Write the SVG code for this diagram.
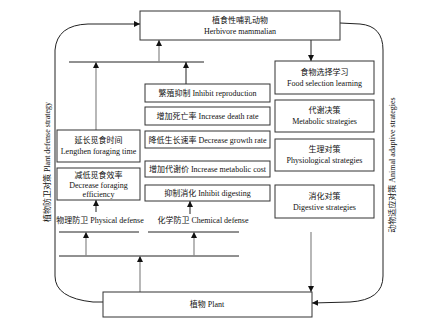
<svg xmlns="http://www.w3.org/2000/svg" width="439" height="329" viewBox="0 0 439 329">
<style>
.box{fill:#fff;stroke:#333;stroke-width:1}
.t{font-family:"Liberation Serif","Noto Sans CJK SC",serif;font-size:8px;fill:#111;text-anchor:middle}
.ln{fill:none;stroke:#222;stroke-width:1}
.ar{fill:none;stroke:#888;stroke-width:1.2}
.cv{fill:none;stroke:#222;stroke-width:1}
</style>
<defs>
<marker id="ah" viewBox="0 0 8 8" refX="8" refY="4" markerWidth="6" markerHeight="6" orient="auto" markerUnits="userSpaceOnUse">
<path d="M0,0 L8,4 L0,8 Z" fill="#111"/>
</marker>
</defs>
<rect width="439" height="329" fill="#fff"/>

<g id="connectors">
<path class="cv" d="M103,302 L93,302 Q55,298 55,276 L55,50 Q57,25 88,24 L140,24" marker-end="url(#ah)"/>
<path class="cv" d="M340,23 L360,24 Q383,26 383,50 L383,276 Q383,300 350,302 L312,303" marker-end="url(#ah)"/>
<line class="ln" x1="69" y1="62" x2="204" y2="62"/>
<line class="ar" x1="159" y1="62" x2="159" y2="40" marker-end="url(#ah)"/>
<line class="ar" x1="96" y1="130" x2="96" y2="62" marker-end="url(#ah)"/>
<line class="ln" x1="186" y1="84" x2="186" y2="62" marker-end="url(#ah)"/>
<line class="ln" x1="311" y1="40" x2="311" y2="61" marker-end="url(#ah)"/>
<line class="ln" x1="96" y1="212" x2="96" y2="200" marker-end="url(#ah)"/>
<line class="ln" x1="190" y1="214" x2="190" y2="201" marker-end="url(#ah)"/>
<line class="ln" x1="59" y1="232" x2="139" y2="232"/>
<line class="ln" x1="148" y1="232" x2="239" y2="232"/>
<line class="ln" x1="59" y1="256" x2="239" y2="256"/>
<line class="ar" x1="86" y1="256" x2="86" y2="232" marker-end="url(#ah)"/>
<line class="ar" x1="194" y1="256" x2="194" y2="232" marker-end="url(#ah)"/>
<line class="ar" x1="140" y1="292" x2="140" y2="256" marker-end="url(#ah)"/>
<line class="ar" x1="311" y1="232" x2="311" y2="292" marker-end="url(#ah)"/>
</g>

<g id="herbivore">
<rect class="box" x="140" y="11" width="200" height="29"/>
<text class="t" x="240" y="23">植食性哺乳动物</text>
<text class="t" x="240" y="34">Herbivore mammalian</text>
</g>
<g id="plant">
<rect class="box" x="103" y="292" width="209" height="25"/>
<text class="t" x="207" y="307">植物 Plant</text>
</g>

<g id="food-selection">
<rect class="box" x="275" y="61" width="99" height="33"/>
<text class="t" x="324.5" y="75">食物选择学习</text>
<text class="t" x="324.5" y="86">Food selection learning</text>
</g>
<g id="metabolic">
<rect class="box" x="275" y="100" width="99" height="32"/>
<text class="t" x="324.5" y="113">代谢决策</text>
<text class="t" x="324.5" y="124">Metabolic strategies</text>
</g>
<g id="physiological">
<rect class="box" x="275" y="139" width="99" height="32"/>
<text class="t" x="324.5" y="152">生理对策</text>
<text class="t" x="324.5" y="163">Physiological strategies</text>
</g>
<g id="digestive">
<rect class="box" x="275" y="185" width="99" height="33"/>
<text class="t" x="324.5" y="199">消化对策</text>
<text class="t" x="324.5" y="210">Digestive strategies</text>
</g>

<g id="inhibit-reproduction">
<rect class="box" x="145" y="84" width="125" height="18"/>
<text class="t" x="207.5" y="96">繁殖抑制 Inhibit reproduction</text>
</g>
<g id="increase-death">
<rect class="box" x="145" y="107" width="125" height="18"/>
<text class="t" x="207.5" y="119">增加死亡率 Increase death rate</text>
</g>
<g id="decrease-growth">
<rect class="box" x="145" y="131" width="125" height="17"/>
<text class="t" x="207.5" y="142.5">降低生长速率 Decrease growth rate</text>
</g>
<g id="increase-metabolic">
<rect class="box" x="145" y="161" width="125" height="16"/>
<text class="t" x="207.5" y="172">增加代谢价 Increase metabolic cost</text>
</g>
<g id="inhibit-digesting">
<rect class="box" x="145" y="185" width="125" height="16"/>
<text class="t" x="207.5" y="196">抑制消化 Inhibit digesting</text>
</g>

<g id="lengthen">
<rect class="box" x="57" y="130" width="83" height="32"/>
<text class="t" x="98.5" y="143">延长觅食时间</text>
<text class="t" x="98.5" y="154">Lengthen foraging time</text>
</g>
<g id="decrease-efficiency">
<rect class="box" x="57" y="168" width="83" height="32"/>
<text class="t" x="98.5" y="178">减低觅食效率</text>
<text class="t" x="98.5" y="187.5">Decrease foraging</text>
<text class="t" x="98.5" y="197">efficiency</text>
</g>

<g id="physical-defense">
<text class="t" x="100" y="223">物理防卫 Physical defense</text>
</g>
<g id="chemical-defense">
<text class="t" x="203" y="223">化学防卫 Chemical defense</text>
</g>

<g id="plant-defense-label">
<text class="t" transform="translate(50,162) rotate(-90)">植物防卫对策 Plant defense strategy</text>
</g>
<g id="animal-adaptive-label">
<text class="t" transform="translate(395,165) rotate(-90)">动物适应对策 Animal adaptive strategies</text>
</g>
</svg>
